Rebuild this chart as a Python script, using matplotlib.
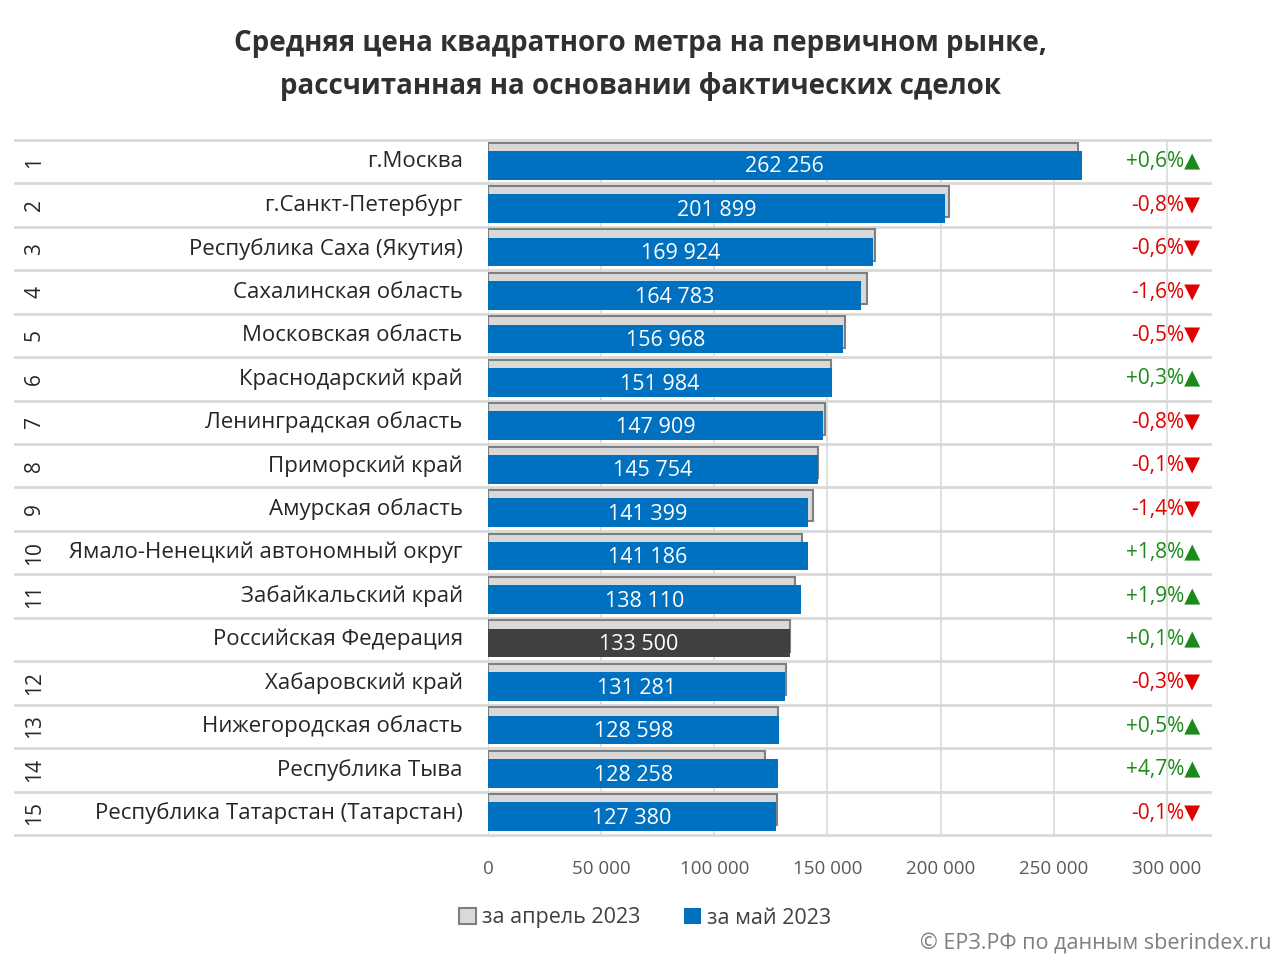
import matplotlib.pyplot as plt

plt.rcParams['font.family'] = ['Open Sans', 'DejaVu Sans']

# Данные
regions = ['г.Москва', 'г.Санкт-Петербург', 'Республика Саха (Якутия)', 'Сахалинская область',
           'Московская область', 'Краснодарский край', 'Ленинградская область', 'Приморский край',
           'Амурская область', 'Ямало-Ненецкий автономный округ', 'Забайкальский край',
           'Российская Федерация', 'Хабаровский край', 'Нижегородская область',
           'Республика Тыва', 'Республика Татарстан (Татарстан)']
ranks = ['1', '2', '3', '4', '5', '6', '7', '8', '9', '10', '11', '', '12', '13', '14', '15']
may_2023 = [262256, 201899, 169924, 164783, 156968, 151984, 147909, 145754,
            141399, 141186, 138110, 133500, 131281, 128598, 128258, 127380]
april_2023 = [260690, 203530, 170950, 167460, 157760, 151530, 149100, 145900,
              143410, 138690, 135540, 133370, 131680, 127960, 122500, 127510]
changes = ['+0,6%', '-0,8%', '-0,6%', '-1,6%', '-0,5%', '+0,3%', '-0,8%', '-0,1%',
           '-1,4%', '+1,8%', '+1,9%', '+0,1%', '-0,3%', '+0,5%', '+4,7%', '-0,1%']
xticks = [0, 50000, 100000, 150000, 200000, 250000, 300000]

fig = plt.figure(figsize=(12.8, 9.6), dpi=100)
ax = fig.add_axes([488 / 1280, 1 - 835 / 960, 722 / 1280, 695 / 960])

n = len(regions)
pos = list(range(n))

# вертикальная сетка
for t in xticks:
    ax.axvline(t, color='#d9d9d9', lw=1.2, zorder=0)

# строки таблицы
for i in range(n + 1):
    ax.axhline(i - 0.5, xmin=-0.655, xmax=1, color='#d9d9d9', lw=2, clip_on=False, zorder=1)

# апрель (серые, сзади) и май (синие, спереди)
ax.barh([p - 0.08 for p in pos], april_2023, height=0.72, color='#d9d9d9',
        edgecolor='#7f7f7f', linewidth=1.5, zorder=2)
blue = ['#404040' if r == '' else '#0070c0' for r in ranks]
ax.barh([p + 0.08 for p in pos], may_2023, height=0.66, color=blue, zorder=3)

for i in pos:
    v = may_2023[i]
    ax.text(v / 2, i + 0.12, f'{v:,}'.replace(',', ' '), color='white', fontsize=15.5,
            ha='center', va='center', zorder=4)
    ax.text(-0.035, i, regions[i], transform=ax.get_yaxis_transform(), ha='right', va='center',
            fontsize=16, color='#262626')
    ax.text(-0.628, i, ranks[i], transform=ax.get_yaxis_transform(), ha='center', va='center',
            fontsize=15, color='#262626', rotation=90)
    up = changes[i].startswith('+')
    col = '#1a8a1a' if up else '#e00000'
    ax.text(0.986, i, changes[i] + ('▲' if up else '▼'), transform=ax.get_yaxis_transform(),
            ha='right', va='center', fontsize=15, color=col)

ax.set_xlim(0, 319000)
ax.set_ylim(n - 0.5, -0.5)
ax.set_xticks(xticks)
ax.set_xticklabels([f'{t:,}'.replace(',', ' ') for t in xticks], fontsize=13.5, color='#595959')
ax.tick_params(axis='x', length=0, pad=18)
ax.set_yticks([])
for s in ax.spines.values():
    s.set_visible(False)

# заголовок
fig.text(0.5, 1 - 65 / 960, 'Средняя цена квадратного метра на первичном рынке,\n'
         'рассчитанная на основании фактических сделок', ha='center', va='center',
         fontsize=20, fontweight='bold', color='#303030', linespacing=1.65)

# легенда
leg_a = plt.Rectangle((0, 0), 1, 1, facecolor='#d9d9d9', edgecolor='#7f7f7f', lw=1.5)
leg_m = plt.Rectangle((0, 0), 1, 1, facecolor='#0070c0')
fig.legend([leg_a, leg_m], ['за апрель 2023', 'за май 2023'], loc='center',
           bbox_to_anchor=(645 / 1280, 1 - 918 / 960), ncol=2, frameon=False, fontsize=15.5,
           handlelength=0.8, handleheight=0.8, handletextpad=0.3, columnspacing=2.0,
           labelcolor='#404040')

fig.text(1272 / 1280, 1 - 944 / 960, '© ЕРЗ.РФ по данным sberindex.ru', ha='right',
         va='center', fontsize=15.5, color='#7f7f7f')

plt.savefig('out.png', dpi=100)
